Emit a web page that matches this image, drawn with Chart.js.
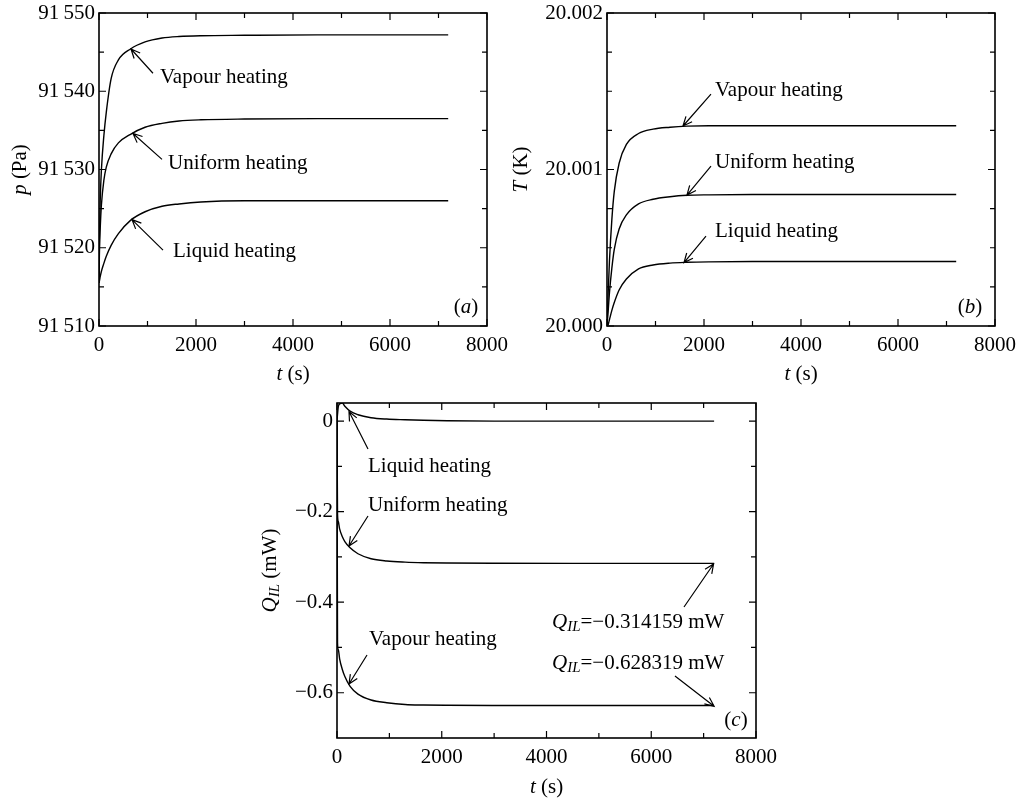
<!DOCTYPE html>
<html>
<head>
<meta charset="utf-8">
<script src="https://cdn.jsdelivr.net/npm/chart.js@4.4.1/dist/chart.umd.min.js"></script>
<style>
  body { margin: 0; background: #fff; width: 1029px; height: 798px; position: relative; overflow: hidden; }
  canvas { position: absolute; }
</style>
</head>
<body>
<canvas id="chartA" width="520" height="400" style="left:0px;top:0px"></canvas>
<canvas id="chartB" width="529" height="400" style="left:500px;top:0px"></canvas>
<canvas id="chartC" width="1029" height="418" style="left:0px;top:380px"></canvas>
<script>
// time samples (s), shared by all curves
const times = [0, 10, 25, 50, 100, 150, 250, 400, 650, 950, 1300, 1650, 2100, 3000, 4500, 7200];

// (a) pressure p (Pa)
const pVapour  = [91515.5, 91521, 91526, 91530, 91534.3, 91537.3, 91541.6, 91544.0, 91545.4, 91546.3, 91546.8, 91547.0, 91547.1, 91547.15, 91547.2, 91547.2];
const pUniform = [91515.5, 91520, 91522.5, 91525.5, 91528.6, 91530.3, 91532.0, 91533.4, 91534.5, 91535.4, 91535.9, 91536.2, 91536.35, 91536.45, 91536.5, 91536.5];
const pLiquid  = [91515.5, 91515.8, 91516.3, 91517.0, 91518.0, 91518.9, 91520.3, 91521.8, 91523.5, 91524.6, 91525.3, 91525.6, 91525.85, 91526.0, 91526.0, 91526.0];

// (b) temperature T (K)
const TVapour  = [20.0, 20.00009, 20.00022, 20.00041, 20.00068, 20.00086, 20.00104, 20.00116, 20.00123, 20.001258, 20.00127, 20.001277, 20.00128, 20.00128, 20.00128, 20.00128];
const TUniform = [20.0, 20.00004, 20.0001, 20.00021, 20.00037, 20.00049, 20.00062, 20.00071, 20.00078, 20.00081, 20.000826, 20.000835, 20.000838, 20.00084, 20.00084, 20.00084];
const TLiquid  = [20.0, 20.0, 20.00001, 20.00004, 20.0001, 20.00015, 20.00023, 20.0003, 20.000365, 20.00039, 20.000402, 20.000407, 20.00041, 20.000412, 20.000412, 20.000412];

// (c) interface heat flow Q_IL (mW)
const QLiquid  = [0.0, 0.015, 0.032, 0.038, 0.04, 0.033, 0.022, 0.014, 0.0075, 0.0045, 0.003, 0.0018, 0.0008, 0.0, 0.0, 0.0];
const QUniform = [0, -0.205, -0.222, -0.238, -0.255, -0.266, -0.28, -0.293, -0.304, -0.309, -0.3115, -0.3128, -0.3135, -0.314, -0.31416, -0.314159];
const QVapour  = [0, -0.49, -0.505, -0.525, -0.548, -0.564, -0.586, -0.603, -0.616, -0.622, -0.626, -0.6272, -0.6278, -0.6282, -0.62832, -0.628319];

// tick values
const tTicks = [0, 2000, 4000, 6000, 8000];
const tMinor = [1000, 3000, 5000, 7000];
const pTicks = [91510, 91520, 91530, 91540, 91550];
const pMinor = [91515, 91525, 91535, 91545];
const TTicks = [20.000, 20.001, 20.002];
const TMinor = [20.00025, 20.0005, 20.00075, 20.00125, 20.0015, 20.00175];
const QTicks = [-0.6, -0.4, -0.2, 0];
const QMinor = [-0.5, -0.3, -0.1];

Chart.defaults.font.family = "'Liberation Serif', 'Times New Roman', serif";
Chart.defaults.font.size = 21;
Chart.defaults.color = '#000';

const FONT = "'Liberation Serif', 'Times New Roman', serif";
const fontOf = p => (p.i ? 'italic ' : '') + (p.size || 21) + 'px ' + FONT;
const it = s => ({ s: s, i: true });
const rm = s => ({ s: s });
const sub = s => ({ s: s, i: true, size: 15, dy: 5 });

function drawRich(ctx, parts, x, y, align) {
  let w = 0;
  parts.forEach(p => { ctx.font = fontOf(p); w += ctx.measureText(p.s).width; });
  let cx = align === 'center' ? x - w / 2 : x;
  ctx.textAlign = 'left';
  ctx.textBaseline = 'middle';
  parts.forEach(p => {
    ctx.font = fontOf(p);
    ctx.fillText(p.s, cx, y + (p.dy || 0));
    cx += ctx.measureText(p.s).width;
  });
}

function arrow(ctx, x0, y0, x1, y1) {
  const ang = Math.atan2(y1 - y0, x1 - x0);
  const hl = 10, spread = 0.42;
  ctx.beginPath();
  ctx.moveTo(x0, y0);
  ctx.lineTo(x1, y1);
  ctx.moveTo(x1 - hl * Math.cos(ang - spread), y1 - hl * Math.sin(ang - spread));
  ctx.lineTo(x1, y1);
  ctx.lineTo(x1 - hl * Math.cos(ang + spread), y1 - hl * Math.sin(ang + spread));
  ctx.stroke();
}

// frame with inward ticks on all four sides, plus notes, arrows and axis titles
const framePlugin = {
  id: 'frame',
  afterDraw(chart, args, opts) {
    const { ctx, chartArea: a } = chart;
    const x = chart.scales.x, y = chart.scales.y;
    ctx.save();
    ctx.strokeStyle = '#000';
    ctx.fillStyle = '#000';
    ctx.lineWidth = 1.6;
    ctx.strokeRect(a.left, a.top, a.right - a.left, a.bottom - a.top);
    ctx.lineWidth = 1.2;
    const xt = (vals, len) => vals.forEach(v => {
      const px = x.getPixelForValue(v);
      ctx.beginPath();
      ctx.moveTo(px, a.bottom); ctx.lineTo(px, a.bottom - len);
      ctx.moveTo(px, a.top); ctx.lineTo(px, a.top + len);
      ctx.stroke();
    });
    const yt = (vals, len) => vals.forEach(v => {
      const py = y.getPixelForValue(v);
      ctx.beginPath();
      ctx.moveTo(a.left, py); ctx.lineTo(a.left + len, py);
      ctx.moveTo(a.right, py); ctx.lineTo(a.right - len, py);
      ctx.stroke();
    });
    xt(opts.xMajor, 7); xt(opts.xMinor, 5);
    yt(opts.yMajor, 7); yt(opts.yMinor, 5);

    ctx.lineWidth = 1.2;
    (opts.arrows || []).forEach(r => {
      arrow(ctx, x.getPixelForValue(r.from[0]), y.getPixelForValue(r.from[1]),
                 x.getPixelForValue(r.to[0]), y.getPixelForValue(r.to[1]));
    });
    (opts.notes || []).forEach(n => {
      drawRich(ctx, n.parts, x.getPixelForValue(n.at[0]), y.getPixelForValue(n.at[1]), n.align || 'left');
    });

    // axis titles
    drawRich(ctx, opts.xTitle, (a.left + a.right) / 2, a.bottom + opts.xTitleGap, 'center');
    ctx.save();
    ctx.translate(a.left - opts.yTitleGap, (a.top + a.bottom) / 2 + opts.yTitleShift);
    ctx.rotate(-Math.PI / 2);
    drawRich(ctx, opts.yTitle, 0, 0, 'center');
    ctx.restore();
    ctx.restore();
  }
};

function series(vals) {
  return {
    data: times.map((t, i) => ({ x: t, y: vals[i] })),
    borderColor: '#000',
    borderWidth: 1.4,
    pointRadius: 0,
    fill: false,
    cubicInterpolationMode: 'monotone'
  };
}

function makeChart(id, cfg) {
  return new Chart(document.getElementById(id), {
    type: 'line',
    data: { datasets: cfg.datasets.map(series) },
    plugins: [framePlugin],
    options: {
      responsive: false,
      animation: false,
      events: [],
      layout: { padding: cfg.padding },
      plugins: {
        legend: { display: false },
        tooltip: { enabled: false },
        frame: cfg.frame
      },
      scales: {
        x: {
          type: 'linear', min: 0, max: 8000,
          grid: { display: false, drawTicks: false, tickLength: 0 }, border: { display: false },
          afterBuildTicks: s => { s.ticks = tTicks.map(v => ({ value: v })); },
          afterFit: s => { s.height = cfg.xHeight; s.paddingLeft = 0; s.paddingRight = 0; },
          ticks: { padding: 7, maxRotation: 0, autoSkip: false, callback: v => String(v) }
        },
        y: {
          type: 'linear', min: cfg.yMin, max: cfg.yMax,
          grid: { display: false, drawTicks: false, tickLength: 0 }, border: { display: false },
          afterBuildTicks: s => { s.ticks = cfg.yTicks.map(v => ({ value: v })); },
          afterFit: s => { s.width = cfg.yWidth; s.paddingTop = 0; s.paddingBottom = 0; },
          ticks: { padding: 4, autoSkip: false, callback: cfg.yFormat }
        }
      }
    }
  });
}

makeChart('chartA', {
  datasets: [pVapour, pUniform, pLiquid],
  padding: { left: 0, top: 13, right: 33, bottom: 0 },
  xHeight: 74, yWidth: 99,
  yMin: 91510, yMax: 91550, yTicks: pTicks,
  yFormat: v => { const s = String(Math.round(v)); return s.slice(0, 2) + '\u2009' + s.slice(2); },
  frame: {
    xMajor: tTicks, xMinor: tMinor, yMajor: pTicks, yMinor: pMinor,
    xTitle: [it('t'), rm(' (s)')], xTitleGap: 48,
    yTitle: [it('p'), rm(' (Pa)')], yTitleGap: 79, yTitleShift: 0,
    arrows: [
      { from: [1113, 91542.3], to: [660, 91545.4] },
      { from: [1299, 91531.3], to: [701, 91534.6] },
      { from: [1320, 91519.7], to: [680, 91523.6] }
    ],
    notes: [
      { at: [1258, 91541.8], parts: [rm('Vapour heating')] },
      { at: [1423, 91530.8], parts: [rm('Uniform heating')] },
      { at: [1526, 91519.5], parts: [rm('Liquid heating')] },
      { at: [7567, 91512.4], parts: [rm('('), it('a'), rm(')')], align: 'center' }
    ]
  }
});

makeChart('chartB', {
  datasets: [TVapour, TUniform, TLiquid],
  padding: { left: 0, top: 13, right: 34, bottom: 0 },
  xHeight: 74, yWidth: 107,
  yMin: 20.000, yMax: 20.002, yTicks: TTicks,
  yFormat: v => v.toFixed(3),
  frame: {
    xMajor: tTicks, xMinor: tMinor, yMajor: TTicks, yMinor: TMinor,
    xTitle: [it('t'), rm(' (s)')], xTitleGap: 48,
    yTitle: [it('T'), rm(' (K)')], yTitleGap: 86, yTitleShift: 0,
    arrows: [
      { from: [2144, 20.001482], to: [1567, 20.001278] },
      { from: [2144, 20.001022], to: [1649, 20.000837] },
      { from: [2041, 20.000575], to: [1588, 20.000405] }
    ],
    notes: [
      { at: [2227, 20.001508], parts: [rm('Vapour heating')] },
      { at: [2227, 20.001042], parts: [rm('Uniform heating')] },
      { at: [2227, 20.000607], parts: [rm('Liquid heating')] },
      { at: [7485, 20.000121], parts: [rm('('), it('b'), rm(')')], align: 'center' }
    ]
  }
});

makeChart('chartC', {
  datasets: [QLiquid, QUniform, QVapour],
  padding: { left: 0, top: 23, right: 273, bottom: 0 },
  xHeight: 60, yWidth: 337,
  yMin: -0.7, yMax: 0.04, yTicks: QTicks,
  yFormat: v => (Math.abs(v) < 1e-9 ? '0' : '\u2212' + Math.abs(v).toFixed(1)),
  frame: {
    xMajor: tTicks, xMinor: tMinor, yMajor: QTicks, yMinor: QMinor,
    xTitle: [it('t'), rm(' (s)')], xTitleGap: 49,
    yTitle: [it('Q'), sub('IL'), rm(' (mW)')], yTitleGap: 67, yTitleShift: 0,
    arrows: [
      { from: [592, -0.0616], to: [229, 0.021] },
      { from: [592, -0.2096], to: [229, -0.2759] },
      { from: [573, -0.5167], to: [229, -0.5807] },
      { from: [6625, -0.4106], to: [7190, -0.3157] },
      { from: [6453, -0.563], to: [7200, -0.6300] }
    ],
    notes: [
      { at: [592, -0.0992], parts: [rm('Liquid heating')] },
      { at: [592, -0.1853], parts: [rm('Uniform heating')] },
      { at: [611, -0.4813], parts: [rm('Vapour heating')] },
      { at: [4105, -0.4438], parts: [it('Q'), sub('IL'), rm('=\u22120.314159 mW')] },
      { at: [4105, -0.5343], parts: [it('Q'), sub('IL'), rm('=\u22120.628319 mW')] },
      { at: [7618, -0.6603], parts: [rm('('), it('c'), rm(')')], align: 'center' }
    ]
  }
});
</script>
</body>
</html>
